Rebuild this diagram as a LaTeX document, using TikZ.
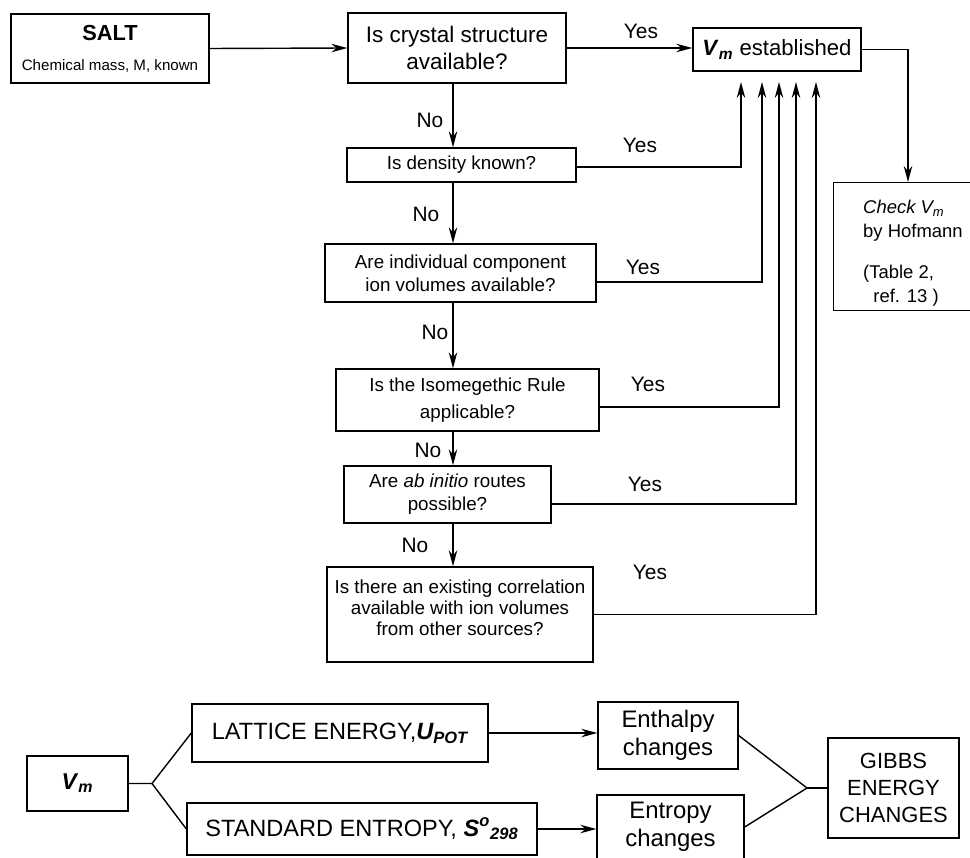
\documentclass[tikz,border=0pt]{standalone}
\usepackage{fontspec}
\setmainfont{Liberation Sans}
\usetikzlibrary{arrows.meta}

\newcommand{\fsz}[2]{\fontsize{#1}{#2}\selectfont}
\newcommand{\Vm}{\textbf{\textit{V}\textsubscript{\textit{m}}}}

\tikzset{
  box/.style={draw, line width=0.8pt, align=center, inner sep=0pt},
  ln/.style={line width=0.8pt},
  arr/.style={line width=0.8pt, -{Stealth[length=3.2mm,width=1.7mm]}},
  lbl/.style={font=\fsz{11.9}{14}},
  qfont/.style={font=\fsz{10.7}{13}},
}

\begin{document}
\begin{tikzpicture}[x=0.02cm, y=-0.02cm]
  \useasboundingbox (0,0) rectangle (970,858);

  % Top chain of questions
  \node[box, minimum width=3.96cm, minimum height=1.38cm] (salt) at (110,48.5)
    {{\fsz{12.4}{14}\bfseries SALT}\\[5pt]{\fsz{8.6}{10}Chemical mass, M, known}};
  \node[box, font=\fsz{12.8}{15.3}, minimum width=4.36cm, minimum height=1.40cm] (crystal) at (457,48)
    {Is crystal structure\\available?};
  \node[box, font=\fsz{12.6}{15}, minimum width=3.36cm, minimum height=0.86cm] (vmest) at (777,49.5)
    {\Vm\ established};
  \node[box, minimum width=3.2cm, minimum height=2.56cm, anchor=north west] (check) at (833,182) {};
  \node[anchor=north west, align=left, font=\fsz{10.5}{13.6}] (checktxt) at (857,194)
    {\textit{Check V\textsubscript{m}}\\by Hofmann\\[10pt](Table 2,\\\ \ ref. 13 )};

  \node[box, qfont, minimum width=4.58cm, minimum height=0.68cm] (density) at (461.5,165)
    {Is density known?};
  \node[box, qfont, minimum width=5.42cm, minimum height=1.16cm] (comp) at (460.5,273)
    {Are individual component\\ion volumes available?};
  \node[box, qfont, minimum width=5.26cm, minimum height=1.24cm] (iso) at (467.5,400)
    {Is the Isomegethic Rule\\[2pt]applicable?};
  \node[box, qfont, minimum width=4.14cm, minimum height=1.14cm] (abin) at (447.5,494.5)
    {Are \textit{ab initio} routes\\possible?};
  \node[box, font=\fsz{10.7}{12}, minimum width=5.32cm, minimum height=1.90cm] (corr) at (460,614.5)
    {Is there an existing correlation\\available with ion volumes\\from other sources?\\[-4pt]};

  % Yes / No labels
  \node[lbl] (yes1) at (641,31) {Yes};
  \node[lbl] (yes2) at (640,145) {Yes};
  \node[lbl] (yes3) at (643,267) {Yes};
  \node[lbl] (yes4) at (648,384) {Yes};
  \node[lbl] (yes5) at (645,484) {Yes};
  \node[lbl] (yes6) at (650,572) {Yes};
  \node[lbl] (no1) at (430,120) {No};
  \node[lbl] (no2) at (426,214) {No};
  \node[lbl] (no3) at (435,332) {No};
  \node[lbl] (no4) at (428,450) {No};
  \node[lbl] (no5) at (415,545) {No};

  % Arrows
  \coordinate (trunk) at (453,0);
  \coordinate (tip1) at (741,82);
  \coordinate (tip2) at (762,82);
  \coordinate (tip3) at (779,82);
  \coordinate (tip4) at (796,82);
  \coordinate (tip5) at (816,82);
  \coordinate (checkx) at (908,0);
  \draw[arr] (salt.east) -- (crystal.west);
  \draw[arr] (crystal.east) -- (crystal.east -| vmest.west);
  \draw[arr] (vmest.east) -| (check.north -| checkx);
  \draw[arr] (crystal.south -| trunk) -- (density.north -| trunk);
  \draw[arr] (density.south -| trunk) -- (comp.north -| trunk);
  \draw[arr] (comp.south -| trunk) -- (iso.north -| trunk);
  \draw[arr] (iso.south -| trunk) -- (abin.north -| trunk);
  \draw[arr] (abin.south -| trunk) -- (corr.north -| trunk);
  \draw[arr] ([yshift=-0.04cm]density.east) -| (tip1);
  \draw[arr] ([yshift=-0.18cm]comp.east) -| (tip2);
  \draw[arr] ([yshift=-0.14cm]iso.east) -| (tip3);
  \draw[arr] ([yshift=-0.19cm]abin.east) -| (tip4);
  \draw[arr] (corr.east) -| (tip5);

  % Bottom: from V_m to Gibbs energy
  \node[box, font=\fsz{13}{15}, minimum width=2.02cm, minimum height=1.10cm] (vm) at (77.5,783.5) {\Vm};
  \node[box, font=\fsz{13.4}{15}, minimum width=5.92cm, minimum height=1.16cm] (lat) at (340,733)
    {LATTICE ENERGY,\textbf{\textit{U\textsubscript{POT}}}};
  \node[box, font=\fsz{13.4}{15}, minimum width=7.00cm, minimum height=1.04cm] (ent) at (362,829)
    {STANDARD ENTROPY, \textbf{\textit{S\textsuperscript{o}\textsubscript{298}}}};
  \node[box, font=\fsz{13.6}{15.9}, minimum width=2.80cm, minimum height=1.34cm] (enth) at (668,735.5)
    {Enthalpy\\changes};
  \node[box, font=\fsz{13.6}{15.9}, minimum width=2.94cm, minimum height=1.28cm] (entc) at (670.5,827)
    {Entropy\\changes};
  \node[box, font=\fsz{12.5}{15.6}, minimum width=2.62cm, minimum height=2.00cm] (gibbs) at (893.5,788)
    {GIBBS\\ENERGY\\CHANGES};
  \coordinate (fork1) at (152,783.5);
  \coordinate (fork2) at (807,788);
  \draw[ln] (vm.east) -- (fork1) -- (lat.west);
  \draw[ln] (fork1) -- (ent.west);
  \draw[arr] (lat.east) -- (lat.east -| enth.west);
  \draw[arr] (ent.east) -- (ent.east -| entc.west);
  \draw[ln] (enth.east) -- (fork2) -- (entc.east);
  \draw[ln] (fork2) -- (gibbs.west);
\end{tikzpicture}
\end{document}
